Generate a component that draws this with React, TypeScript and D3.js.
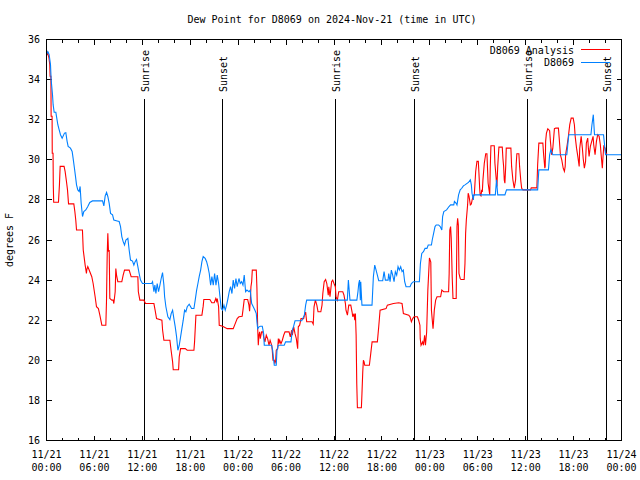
import React from "react";
import * as d3 from "d3";

// hours since 2024-11-21 00:00 UTC, dew point (F)
const analysisSeries: [number, number][] = [
  [0,35.2],[0.1,35.4],[0.3,35.1],[0.41,34.75],[0.45,34.17],[0.55,34.17],[0.58,32.17],[0.7,32.17],[0.72,30.33],[0.82,30.33],[0.85,28.75],[0.9,27.88],[1.5,27.88],[1.62,28.75],[1.71,29.67],[2.2,29.67],[2.33,29.42],[2.5,28.92],[2.63,28.5],[2.76,27.8],[3.42,27.8],[3.55,27.42],[3.67,26.97],[3.76,26.5],[4.5,26.5],[4.6,25.5],[4.84,24.75],[5.0,24.33],[5.05,24.53],[5.17,24.67],[5.34,24.5],[5.67,24.17],[5.84,23.83],[6.09,23.17],[6.26,22.67],[6.5,22.58],[6.68,22.25],[6.93,21.75],[7.43,21.75],[7.51,22.92],[7.6,25.25],[7.68,26.33],[7.76,25.42],[7.85,25.5],[7.93,23.08],[8.18,23.0],[8.35,23.0],[8.43,22.83],[8.6,23.42],[8.68,24.58],[8.77,24.25],[8.93,23.92],[9.43,23.92],[9.6,24.25],[9.77,24.5],[10.35,24.5],[10.6,24.17],[11.44,24.17],[11.5,23.42],[11.69,23.0],[12.19,23.0],[12.4,22.83],[13.45,22.83],[13.6,22.5],[13.78,22.08],[14.45,22.0],[14.54,21.5],[14.7,21.0],[15.45,21.0],[15.6,20.5],[15.79,19.92],[15.87,19.53],[16.54,19.53],[16.62,20.17],[16.79,20.58],[17.37,20.58],[17.62,20.5],[18.46,20.5],[18.54,20.92],[18.71,22.25],[19.46,22.25],[19.62,22.7],[19.7,23.03],[20.46,23.03],[20.7,22.87],[21.0,22.87],[21.2,23.08],[21.3,22.95],[21.38,23.08],[21.55,22.67],[21.63,21.75],[22.05,21.7],[22.63,21.58],[23.38,21.58],[23.63,21.83],[23.88,22.08],[24.1,22.17],[24.5,22.2],[24.6,22.5],[24.76,23.03],[25.19,23.03],[25.35,22.75],[25.43,22.45],[25.51,22.92],[25.6,23.67],[25.69,23.92],[25.77,24.5],[26.27,24.5],[26.35,23.58],[26.44,21.67],[26.52,20.75],[26.6,21.25],[26.69,21.42],[26.77,21.08],[26.94,21.42],[27.1,21.42],[27.19,21.17],[27.35,20.92],[27.52,21.25],[27.69,21.08],[27.86,20.75],[28.0,21.0],[28.2,20.75],[28.27,20.5],[28.36,20.0],[28.53,20.0],[28.6,19.83],[28.7,20.0],[28.77,20.5],[28.95,20.58],[29.03,21.08],[29.1,20.83],[29.2,21.0],[29.36,20.83],[29.53,21.0],[29.7,21.25],[29.87,21.42],[30.37,21.42],[30.53,21.17],[30.7,21.5],[30.78,21.25],[30.95,21.67],[31.12,21.33],[31.28,21.08],[31.45,20.58],[31.53,21.67],[31.7,21.75],[31.87,22.08],[32.2,22.08],[32.3,22.25],[32.45,22.4],[32.58,21.92],[33.25,21.92],[33.4,21.8],[33.5,22.67],[33.67,23.0],[33.85,22.75],[34.0,22.42],[34.35,22.42],[34.5,22.75],[34.6,23.33],[34.77,23.92],[34.95,24.03],[35.1,23.83],[35.28,23.25],[35.35,23.67],[35.5,23.17],[35.7,23.92],[35.84,24.0],[36.0,23.83],[36.17,23.67],[36.25,23.17],[36.42,23.0],[36.59,23.42],[37.1,23.42],[37.25,23.25],[37.43,22.83],[37.5,22.5],[37.68,22.25],[37.85,22.75],[38.1,22.75],[38.26,22.42],[38.35,22.17],[38.5,22.33],[38.6,22.0],[38.68,22.33],[38.77,21.25],[38.85,18.83],[38.93,17.63],[39.43,17.63],[39.5,18.33],[39.6,19.42],[39.68,20.0],[39.77,19.92],[39.85,19.75],[40.43,19.75],[40.6,20.33],[40.77,20.92],[41.43,20.92],[41.6,21.67],[41.77,22.5],[42.52,22.58],[42.68,22.75],[43.44,22.83],[44.1,22.87],[44.52,22.83],[44.69,22.33],[45.36,22.25],[45.52,22.17],[45.69,21.92],[45.85,22.08],[46.02,22.17],[46.44,22.17],[46.6,22.0],[46.76,21.75],[46.8,21.08],[46.9,20.75],[47.1,20.92],[47.2,20.75],[47.35,21.25],[47.45,20.75],[47.6,21.4],[47.75,23.5],[47.95,25.1],[48.12,24.9],[48.2,22.5],[48.4,21.58],[48.48,22.0],[48.56,22.5],[48.73,23.0],[48.9,23.17],[49.35,23.17],[49.5,23.5],[49.73,23.42],[50.35,23.42],[50.42,24.33],[50.5,26.5],[50.6,26.67],[50.68,26.08],[50.8,24.17],[50.9,23.08],[51.3,23.08],[51.4,26.67],[51.48,27.08],[51.57,26.75],[51.65,24.33],[51.8,24.08],[51.9,24.03],[52.3,24.03],[52.4,24.83],[52.48,26.33],[52.57,27.0],[52.73,27.75],[52.8,28.33],[52.9,28.2],[52.98,28.0],[53.07,27.75],[53.2,27.8],[53.3,28.0],[53.4,28.15],[53.57,28.25],[53.74,29.42],[53.9,29.92],[54.07,29.92],[54.15,29.33],[54.24,28.58],[54.3,28.25],[54.4,28.2],[54.5,28.5],[54.57,28.4],[54.65,29.0],[54.82,29.83],[55.0,30.3],[55.15,30.3],[55.23,29.5],[55.3,28.83],[55.5,28.25],[55.57,29.67],[55.65,30.7],[56.07,30.7],[56.15,29.83],[56.32,29.0],[56.4,28.67],[56.5,29.67],[56.65,30.63],[57.07,30.63],[57.15,30.08],[57.24,29.67],[57.32,29.0],[57.4,28.83],[57.5,29.67],[57.57,30.58],[58.15,30.58],[58.24,29.67],[58.4,29.0],[58.57,28.58],[58.74,29.0],[58.82,29.83],[58.9,30.3],[59.15,30.3],[59.24,29.67],[59.4,28.92],[59.5,28.58],[59.66,28.5],[60.6,28.5],[60.7,28.6],[61.4,28.6],[61.5,29.75],[61.65,30.83],[62.15,30.83],[62.25,30.25],[62.4,29.58],[62.45,29.67],[62.5,30.92],[62.6,31.33],[62.77,31.55],[63.0,31.45],[63.1,30.92],[63.25,30.25],[63.4,30.58],[63.6,31.55],[63.77,31.58],[64.1,31.58],[64.2,31.08],[64.35,30.25],[64.52,30.0],[64.7,29.58],[64.85,29.42],[64.95,29.67],[65.0,30.25],[65.2,30.75],[65.35,31.17],[65.52,31.75],[65.7,32.08],[65.95,32.08],[66.1,31.75],[66.2,31.17],[66.37,30.58],[66.53,30.17],[66.7,29.67],[66.77,30.58],[66.95,31.17],[67.1,30.58],[67.2,30.08],[67.35,29.58],[67.5,29.92],[67.6,30.83],[67.77,31.08],[67.85,30.58],[67.94,30.17],[68.1,30.67],[68.27,30.92],[68.44,31.17],[68.52,30.75],[68.69,30.25],[68.86,30.92],[69.02,31.25],[69.2,31.17],[69.35,30.75],[69.45,30.25],[69.6,29.58],[69.7,30.25],[69.78,30.67],[69.95,30.58],[70.03,30.33],[70.2,30.3]
];

const stationSeries: [number, number][] = [
  [0,35.25],[0.17,35.4],[0.33,35.25],[0.5,34.75],[0.58,34.0],[0.75,33.25],[0.83,32.75],[0.96,32.37],[1.17,32.37],[1.25,32.17],[1.42,31.75],[1.58,31.5],[1.75,31.25],[1.96,31.08],[2.25,31.33],[2.42,31.35],[2.58,30.92],[2.71,30.67],[3.0,30.58],[3.21,30.42],[3.33,30.08],[3.5,29.58],[3.63,29.17],[3.76,28.75],[3.92,28.5],[4.09,28.42],[4.21,28.67],[4.34,27.83],[4.51,27.17],[4.67,27.42],[4.92,27.5],[5.17,27.67],[5.42,27.87],[5.76,27.95],[7.02,27.95],[7.18,27.7],[7.35,28.2],[7.52,28.37],[7.68,28.17],[7.85,27.83],[8.02,27.33],[8.27,27.25],[8.43,27.0],[8.85,26.95],[9.1,26.92],[9.27,26.67],[9.43,26.17],[9.6,25.92],[9.77,25.75],[9.94,26.0],[10.19,26.08],[10.35,25.5],[10.52,25.0],[10.77,24.95],[10.94,24.75],[11.1,24.92],[11.27,25.03],[11.44,24.67],[11.6,24.33],[11.77,24.0],[12.02,23.83],[13.16,23.83],[13.28,23.92],[13.45,23.42],[13.57,23.75],[13.7,23.33],[13.86,23.83],[14.03,23.42],[14.2,23.75],[14.36,24.08],[14.53,24.37],[14.7,23.75],[14.79,23.17],[14.95,22.67],[15.2,22.17],[15.45,22.03],[15.61,22.33],[15.79,22.5],[15.95,22.08],[16.12,21.67],[16.29,21.17],[16.45,20.5],[16.62,20.75],[16.79,21.17],[16.95,21.58],[17.12,22.0],[17.29,22.5],[17.45,22.42],[17.62,22.67],[17.87,22.8],[18.17,22.58],[18.46,22.58],[18.62,23.0],[18.8,23.5],[18.96,23.83],[19.12,24.17],[19.3,24.5],[19.46,24.92],[19.62,25.17],[19.87,25.08],[20.05,24.92],[20.21,24.67],[20.38,24.33],[20.55,23.75],[20.71,24.17],[20.88,23.75],[21.05,24.33],[21.22,23.75],[21.38,24.25],[21.55,23.83],[21.72,23.17],[21.88,22.58],[22.05,22.5],[22.22,22.75],[22.38,22.5],[22.55,22.75],[22.72,23.08],[22.88,23.42],[23.05,23.67],[23.22,23.33],[23.38,24.0],[23.55,23.58],[23.72,24.08],[23.88,23.67],[24.1,24.08],[24.26,23.83],[24.43,23.92],[24.6,23.75],[24.76,24.25],[24.93,23.42],[25.1,23.5],[25.35,23.42],[25.51,23.5],[25.69,22.83],[25.89,22.67],[26.1,22.5],[26.27,22.33],[26.35,21.92],[26.44,21.58],[26.6,21.67],[26.77,21.7],[27.02,21.7],[27.19,21.33],[27.27,20.75],[28.19,20.75],[28.32,20.5],[28.45,20.0],[28.52,19.75],[28.77,19.75],[28.86,20.5],[29.02,20.75],[29.77,20.75],[29.94,20.92],[30.61,20.92],[30.78,21.5],[30.95,21.7],[31.12,21.97],[31.96,21.97],[32.29,22.25],[32.45,22.75],[32.58,23.0],[37.67,23.0],[37.8,24.0],[38.0,23.0],[38.86,23.0],[39.0,23.42],[39.1,23.83],[39.2,24.0],[39.3,23.0],[39.35,23.92],[39.4,23.5],[39.5,22.75],[40.76,22.75],[40.93,24.17],[41.1,24.75],[41.27,24.5],[41.43,24.25],[41.6,23.97],[42.1,23.97],[42.27,24.42],[42.43,24.0],[42.77,24.0],[42.85,24.33],[43.02,23.92],[43.18,24.5],[43.35,24.25],[43.52,23.92],[43.68,24.42],[43.85,24.25],[44.02,24.67],[44.18,24.5],[44.35,24.67],[44.52,24.42],[44.68,24.5],[44.85,23.92],[45.02,23.67],[45.52,23.67],[45.69,23.83],[45.94,23.92],[46.69,23.92],[46.82,24.83],[46.99,25.33],[47.2,25.42],[47.4,25.58],[47.64,25.58],[47.8,25.75],[48.2,25.75],[48.3,26.0],[48.65,26.67],[48.8,26.75],[49.1,26.75],[49.3,26.67],[49.5,26.5],[49.6,27.17],[49.75,27.42],[50.1,27.5],[50.4,27.67],[50.6,27.75],[51.0,27.75],[51.08,27.92],[51.3,27.83],[51.4,27.75],[51.6,28.25],[51.8,28.5],[52.0,28.58],[52.2,28.7],[52.4,28.75],[52.83,28.87],[53.07,29.0],[53.2,28.75],[53.28,28.33],[53.45,28.0],[53.5,28.25],[56.2,28.25],[56.35,29.0],[56.5,28.25],[57.4,28.25],[57.6,28.5],[61.5,28.5],[61.65,29.5],[62.85,29.5],[63.0,30.25],[63.15,30.5],[63.4,30.25],[65.15,30.25],[65.4,31.25],[68.17,31.25],[68.3,31.75],[68.47,32.25],[68.62,31.25],[69.75,31.25],[70.0,30.25],[72,30.25]
];

const sunEvents: [number, string][] = [
  [12.21, "Sunrise"], [22.1, "Sunset"], [36.25, "Sunrise"],
  [46.14, "Sunset"], [60.17, "Sunrise"], [70.06, "Sunset"],
];

const yTicks = [16, 18, 20, 22, 24, 26, 28, 30, 32, 34, 36];
const majorHours = [0, 6, 12, 18, 24, 30, 36, 42, 48, 54, 60, 66, 72];
const minorHours = d3.range(0, 73, 2).filter((h) => h % 6 !== 0);

const seriesNames = ["D8069 Analysis", "D8069"];
const seriesColors = ["#ff0000", "#0080ff"];

const START = Date.UTC(2024, 10, 21, 0, 0);
const hr = (h: number) => new Date(START + h * 3600e3);

const FONT = "'DejaVu Sans Mono', 'Liberation Mono', monospace";

export default function App() {
  const L = 46.5, R = 621.5, T = 39.5, B = 440.5;
  const x = d3.scaleUtc().domain([hr(0), hr(72)]).range([L, R]);
  const y = d3.scaleLinear().domain([16, 36]).range([B, T]);
  const line = d3
    .line<[number, number]>()
    .x((d) => x(hr(d[0])))
    .y((d) => y(d[1]));
  const fmtDay = d3.utcFormat("%m/%d");
  const fmtTime = d3.utcFormat("%H:%M");
  const px = (v: number) => Math.round(v - 0.5) + 0.5;

  return (
    <svg
      width={640}
      height={480}
      style={{ position: "absolute", left: 0, top: 0, background: "#fff" }}
      fontFamily={FONT}
      fontSize={10}
    >
      <rect x={0} y={0} width={640} height={480} fill="#fff" />
      <text x={332} y={19} textAnchor="middle" dominantBaseline="central">
        Dew Point for D8069 on 2024-Nov-21 (time in UTC)
      </text>
      <text
        x={13}
        y={240}
        textAnchor="middle"
        transform="rotate(-90, 13, 240)"
      >
        degrees F
      </text>

      {/* y ticks */}
      <g shapeRendering="crispEdges" stroke="#000">
        {yTicks.map((t) => (
          <g key={t}>
            <line x1={L} x2={L + 5} y1={px(y(t))} y2={px(y(t))} />
            <line x1={R - 5} x2={R} y1={px(y(t))} y2={px(y(t))} />
          </g>
        ))}
        {majorHours.map((h) => (
          <g key={h}>
            <line x1={px(x(hr(h)))} x2={px(x(hr(h)))} y1={B} y2={B - 5} />
            <line x1={px(x(hr(h)))} x2={px(x(hr(h)))} y1={T} y2={T + 5} />
          </g>
        ))}
        {minorHours.map((h) => (
          <g key={h}>
            <line x1={px(x(hr(h)))} x2={px(x(hr(h)))} y1={B} y2={B - 3} />
            <line x1={px(x(hr(h)))} x2={px(x(hr(h)))} y1={T} y2={T + 3} />
          </g>
        ))}
      </g>
      {yTicks.map((t) => (
        <text key={t} x={40} y={y(t)} textAnchor="end" dominantBaseline="central">
          {t}
        </text>
      ))}
      {majorHours.map((h) => (
        <g key={h}>
          <text x={x(hr(h))} y={454} textAnchor="middle" dominantBaseline="central">
            {fmtDay(hr(h))}
          </text>
          <text x={x(hr(h))} y={467} textAnchor="middle" dominantBaseline="central">
            {fmtTime(hr(h))}
          </text>
        </g>
      ))}

      {/* sunrise / sunset */}
      {sunEvents.map(([h, label], i) => {
        const sx = px(x(hr(h)));
        return (
          <g key={i}>
            <line x1={sx} x2={sx} y1={99} y2={B} stroke="#000" shapeRendering="crispEdges" />
            <text
              x={sx + 4}
              y={92}
              textAnchor="start"
              transform={`rotate(-90, ${sx + 4}, 92)`}
            >
              {label}
            </text>
          </g>
        );
      })}

      {/* series */}
      <path d={line(analysisSeries) || ""} fill="none" stroke={seriesColors[0]} strokeWidth={1.1} />
      <path d={line(stationSeries) || ""} fill="none" stroke={seriesColors[1]} strokeWidth={1.1} />

      {/* legend */}
      {seriesNames.map((name, i) => (
        <g key={name}>
          <text x={574} y={50 + i * 12.8} textAnchor="end" dominantBaseline="central">
            {name}
          </text>
          <line
            x1={581}
            x2={610}
            y1={49.5 + i * 13}
            y2={49.5 + i * 13}
            stroke={seriesColors[i]}
            shapeRendering="crispEdges"
          />
        </g>
      ))}

      <rect
        x={L}
        y={T}
        width={R - L}
        height={B - T}
        fill="none"
        stroke="#000"
        shapeRendering="crispEdges"
      />
    </svg>
  );
}
